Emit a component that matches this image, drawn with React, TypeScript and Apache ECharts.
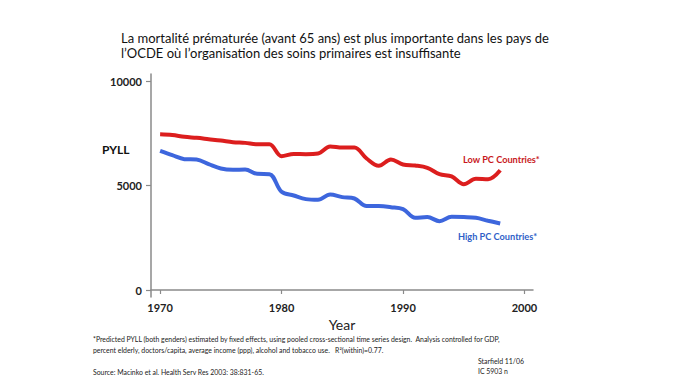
import React, { useEffect, useRef } from "react";
import * as echarts from "echarts";

const years = [1970, 1971, 1972, 1973, 1974, 1975, 1976, 1977, 1978, 1979, 1980, 1981, 1982, 1983, 1984, 1985, 1986, 1987, 1988, 1989, 1990, 1991, 1992, 1993, 1994, 1995, 1996, 1997, 1998];
const lowPC = [7465, 7430, 7340, 7290, 7225, 7160, 7080, 7050, 6985, 6985, 6410, 6520, 6510, 6540, 6875, 6825, 6825, 6300, 5950, 6250, 6015, 5965, 5855, 5550, 5440, 5070, 5330, 5310, 5740];
const highPC = [6665, 6460, 6270, 6250, 6030, 5820, 5760, 5775, 5565, 5550, 4705, 4530, 4355, 4320, 4575, 4450, 4385, 4020, 4020, 3970, 3875, 3460, 3495, 3300, 3510, 3495, 3460, 3320, 3190];
const yTicks = [0, 5000, 10000];
const xTicks = [1970, 1980, 1990, 2000];

const titleLines = [
  "La mortalité prématurée (avant 65 ans) est plus importante dans les pays de",
  "l’OCDE où l’organisation des soins primaires est insuffisante",
];

export default function App() {
  const ref = useRef<HTMLDivElement>(null);
  useEffect(() => {
    const chart = echarts.init(ref.current!, null, { renderer: "svg" });
    const font = "Lato, 'Open Sans', sans-serif";
    const axisColor = "#8a8a8a";
    chart.setOption({
      animation: false,
      backgroundColor: "#ffffff",
      grid: { left: 151, right: 147, top: 74, bottom: 86, containLabel: false },
      xAxis: {
        type: "value",
        min: 1969.25,
        max: 2000.7,
        axisLine: { show: true, lineStyle: { color: axisColor, width: 1.5 } },
        axisTick: { show: true, length: 4, customValues: xTicks, lineStyle: { color: axisColor, width: 1.2 } },
        axisLabel: {
          customValues: xTicks,
          fontFamily: font,
          fontWeight: "bold",
          fontSize: 11,
          color: "#222",
          margin: 5,
          formatter: (v: number) => String(v),
        },
        splitLine: { show: false },
        name: "Year",
        nameLocation: "middle",
        nameGap: 13,
        nameTextStyle: { fontFamily: font, fontSize: 14, color: "#222" },
      },
      yAxis: {
        type: "value",
        min: -335,
        max: 10350,
        axisLine: { show: true, lineStyle: { color: axisColor, width: 1.5 } },
        axisTick: { show: true, length: 5, customValues: yTicks, lineStyle: { color: axisColor, width: 1.2 } },
        axisLabel: {
          customValues: yTicks,
          fontFamily: font,
          fontWeight: "bold",
          fontSize: 11,
          color: "#222",
          margin: 9,
          formatter: (v: number) => String(v),
        },
        splitLine: { show: false },
      },
      series: [
        {
          type: "line",
          name: "Low PC Countries*",
          data: years.map((y, i) => [y, lowPC[i]]),
          smooth: 0.35,
          showSymbol: false,
          lineStyle: { color: "#dc1e1e", width: 4 },
        },
        {
          type: "line",
          name: "High PC Countries*",
          data: years.map((y, i) => [y, highPC[i]]),
          smooth: 0.35,
          showSymbol: false,
          lineStyle: { color: "#3d66dd", width: 4 },
        },
      ],
      graphic: [
        { type: "text", left: 121, top: 31, style: { text: titleLines[0], fontFamily: font, fontSize: 13, fill: "#111" } },
        { type: "text", left: 121, top: 46, style: { text: titleLines[1], fontFamily: font, fontSize: 13, fill: "#111" } },
        { type: "text", left: 102, top: 143, style: { text: "PYLL", fontFamily: font, fontSize: 12, fontWeight: "bold", fill: "#111" } },
        { type: "text", left: 463, top: 155, style: { text: "Low PC Countries*", fontFamily: font, fontSize: 9.2, fontWeight: "bold", fill: "#c8181c" } },
        { type: "text", left: 458, top: 232, style: { text: "High PC Countries*", fontFamily: font, fontSize: 9.2, fontWeight: "bold", fill: "#2f5fc8" } },
        { type: "text", left: 93, top: 335, style: { text: "*Predicted PYLL (both genders) estimated by fixed effects, using pooled cross-sectional time series design.  Analysis controlled for GDP,", fontFamily: font, fontSize: 6.9, fill: "#222" } },
        { type: "text", left: 93, top: 346, style: { text: "percent elderly, doctors/capita, average income (ppp), alcohol and tobacco use.   R²(within)=0.77.", fontFamily: font, fontSize: 6.9, fill: "#222" } },
        { type: "text", left: 93, top: 368, style: { text: "Source: Macinko et al, Health Serv Res 2003; 38:831-65.", fontFamily: font, fontSize: 6.9, fill: "#222" } },
        { type: "text", left: 478, top: 357, style: { text: "Starfield 11/06", fontFamily: font, fontSize: 6.9, fill: "#222" } },
        { type: "text", left: 478, top: 367, style: { text: "IC 5903 n", fontFamily: font, fontSize: 6.9, fill: "#222" } },
      ],
    });
    return () => chart.dispose();
  }, []);
  return <div ref={ref} style={{ width: 680, height: 383, margin: -8 }} />;
}
